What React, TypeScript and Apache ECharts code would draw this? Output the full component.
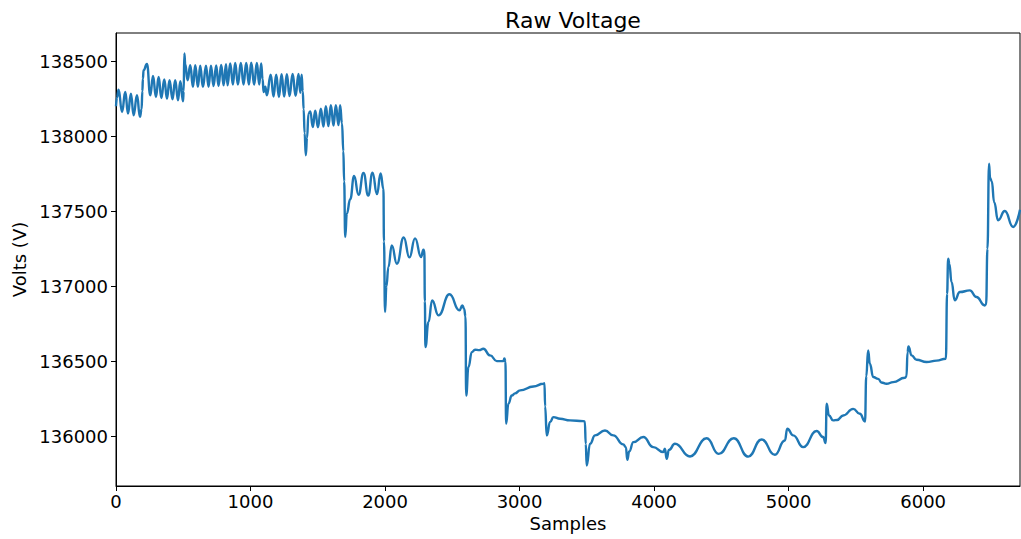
import React, { useEffect, useRef } from "react";
import * as echarts from "echarts";

type Pt = [number, number];

// Raw voltage readings, one array per tap-step plateau: [sample index, volts]
const step00: Pt[] = [
  [0, 138200], [8, 138260], [19, 138311], [45, 138162], [69, 138295], [89, 138151],
  [111, 138284], [131, 138140], [156, 138273], [178, 138129], [190, 138180],
];
const step01: Pt[] = [
  [196, 138300], [200, 138384], [205, 138440], [230, 138482], [255, 138273], [275, 138402],
  [297, 138262], [317, 138395], [337, 138255], [359, 138378], [379, 138251], [398, 138373],
  [420, 138247], [440, 138373], [461, 138240], [478, 138367], [498, 138233], [503, 138300],
];
const step02: Pt[] = [
  [508, 138551], [515, 138480], [532, 138373], [552, 138473], [572, 138329], [589, 138473],
  [609, 138329], [626, 138470], [646, 138329], [669, 138470], [688, 138330], [706, 138470],
  [725, 138335], [745, 138472], [762, 138335], [782, 138475], [800, 138340], [818, 138480],
  [829, 138340], [849, 138485], [869, 138345], [886, 138488], [906, 138345], [928, 138488],
  [948, 138345], [968, 138488], [988, 138345], [1005, 138490], [1027, 138345], [1047, 138488],
  [1065, 138345], [1079, 138485], [1090, 138380],
];
const step03: Pt[] = [
  [1097, 138295], [1110, 138330], [1121, 138273], [1150, 138411], [1171, 138265], [1191, 138411],
  [1211, 138262], [1231, 138413], [1250, 138265], [1270, 138413], [1290, 138268], [1313, 138415],
  [1335, 138270], [1357, 138415], [1370, 138290], [1380, 138410], [1388, 138300],
];
const step04: Pt[] = [
  [1395, 138180], [1402, 138020], [1411, 137873], [1420, 137990], [1431, 138151], [1444, 138165],
  [1463, 138062], [1481, 138170], [1501, 138060], [1523, 138184], [1542, 138065], [1560, 138200],
  [1579, 138068], [1597, 138207], [1617, 138072], [1634, 138207], [1654, 138075], [1666, 138207],
  [1680, 138085],
];
const step05: Pt[] = [
  [1690, 137900], [1696, 137700], [1704, 137329], [1716, 137485], [1741, 137580], [1770, 137735],
  [1803, 137610], [1840, 137755], [1875, 137605], [1907, 137758], [1940, 137615], [1967, 137752],
  [1988, 137650],
];
const step06: Pt[] = [
  [1992, 137300], [2000, 136829], [2010, 137000], [2025, 137129], [2050, 137273], [2088, 137151],
  [2139, 137326], [2181, 137193], [2223, 137320], [2268, 137196], [2285, 137245], [2292, 137240],
];
const step07: Pt[] = [
  [2296, 136900], [2300, 136596], [2323, 136762], [2350, 136907], [2397, 136807], [2479, 136947],
  [2553, 136840], [2575, 136873], [2588, 136850],
];
const step08: Pt[] = [
  [2598, 136800], [2603, 136273], [2620, 136462], [2645, 136562], [2669, 136578], [2700, 136575],
  [2731, 136584], [2781, 136540], [2831, 136502], [2880, 136502], [2887, 136520],
];
const step09: Pt[] = [
  [2895, 136500], [2900, 136084], [2917, 136218], [2942, 136273], [2966, 136287], [3004, 136307],
  [3103, 136333], [3177, 136351], [3185, 136355],
];
const step10: Pt[] = [
  [3190, 136200], [3202, 136007], [3227, 136096], [3251, 136129], [3301, 136118], [3375, 136107],
  [3474, 136102], [3485, 136100],
];
const step11: Pt[] = [
  [3492, 135950], [3499, 135807], [3524, 135951], [3561, 136007], [3635, 136040], [3697, 136007],
  [3771, 135947], [3790, 135929],
];
const step12: Pt[] = [
  [3801, 135844], [3815, 135900], [3846, 135962], [3920, 135996], [3994, 135929], [4068, 135896],
  [4080, 135918],
];
const step13: Pt[] = [
  [4094, 135851], [4110, 135910], [4155, 135951], [4267, 135867], [4391, 135988], [4480, 135884],
  [4592, 135988], [4700, 135866], [4799, 135980], [4898, 135878], [4972, 135973],
];
const step14: Pt[] = [
  [4990, 136051], [5034, 136007], [5108, 135929], [5208, 136036], [5257, 135996], [5275, 135956],
];
const step15: Pt[] = [
  [5283, 136218], [5300, 136140], [5331, 136107], [5360, 136110], [5406, 136140], [5480, 136184],
  [5530, 136151], [5568, 136100],
];
const step16: Pt[] = [
  [5577, 136400], [5591, 136573], [5604, 136484], [5629, 136396], [5666, 136384], [5690, 136360],
  [5728, 136351], [5777, 136362], [5864, 136391], [5876, 136400],
];
const step17: Pt[] = [
  [5884, 136560], [5891, 136600], [5914, 136540], [5951, 136511], [6025, 136496], [6100, 136505],
  [6169, 136518],
];
const step18: Pt[] = [
  [6178, 136950], [6186, 137184], [6195, 137150], [6211, 137029], [6235, 136907], [6273, 136962],
  [6347, 136973], [6397, 136929], [6458, 136873], [6468, 136880],
];
const step19: Pt[] = [
  [6478, 137250], [6490, 137818], [6498, 137720], [6510, 137700], [6528, 137560], [6557, 137440],
  [6607, 137502], [6669, 137396], [6720, 137510],
];

const steps: Pt[][] = [
  step00, step01, step02, step03, step04, step05, step06, step07, step08, step09,
  step10, step11, step12, step13, step14, step15, step16, step17, step18, step19,
];
const voltage: Pt[] = steps.flat();

const xTicks = [0, 1000, 2000, 3000, 4000, 5000, 6000];
const yTicks = [136000, 136500, 137000, 137500, 138000, 138500];
const xMin = 0;
const xMax = 6720;
const yMin = 135670;
const yMax = 138688;

const FONT = "DejaVu Sans";

export default function App() {
  const ref = useRef<HTMLDivElement>(null);

  useEffect(() => {
    if (!ref.current) return;
    const chart = echarts.init(ref.current, undefined, { renderer: "svg" });
    const axisCommon = {
      axisLine: { show: true, lineStyle: { color: "#000", width: 1 } },
      axisTick: { show: true, inside: false, length: 5, lineStyle: { color: "#000", width: 1 } },
      splitLine: { show: false },
      nameLocation: "middle" as const,
      nameTextStyle: { fontFamily: FONT, fontSize: 18, color: "#000" },
    };
    const plain = (v: number) => String(v);
    chart.setOption({
      animation: false,
      backgroundColor: "#fff",
      title: {
        text: "Raw Voltage",
        left: 568,
        top: 4,
        textAlign: "center",
        textStyle: { fontFamily: FONT, fontSize: 22, fontWeight: "normal", color: "#000" },
      },
      grid: {
        left: 116,
        right: 1,
        top: 33,
        bottom: 53,
        outerBoundsMode: "none",
        containLabel: false,
        show: true,
        borderColor: "#000",
        borderWidth: 1,
        backgroundColor: "transparent",
      },
      xAxis: {
        type: "value",
        min: xMin,
        max: xMax,
        name: "Samples",
        nameGap: 28,
        ...axisCommon,
        axisTick: { ...axisCommon.axisTick, customValues: xTicks },
        axisLabel: {
          customValues: xTicks,
          formatter: plain,
          fontFamily: FONT,
          fontSize: 18,
          color: "#000",
          margin: 6,
        },
      },
      yAxis: {
        type: "value",
        min: yMin,
        max: yMax,
        name: "Volts (V)",
        nameGap: 86,
        ...axisCommon,
        axisTick: { ...axisCommon.axisTick, customValues: yTicks },
        axisLabel: {
          customValues: yTicks,
          formatter: plain,
          fontFamily: FONT,
          fontSize: 18,
          color: "#000",
          margin: 8,
        },
      },
      series: [
        {
          type: "line",
          data: voltage,
          showSymbol: false,
          smooth: 0.5,
          smoothMonotone: "x",
          lineStyle: { color: "#1f77b4", width: 2.4 },
        },
      ],
    });
    return () => chart.dispose();
  }, []);

  return (
    <div
      ref={ref}
      style={{ position: "absolute", left: 0, top: 0, width: 1021, height: 539 }}
    />
  );
}
